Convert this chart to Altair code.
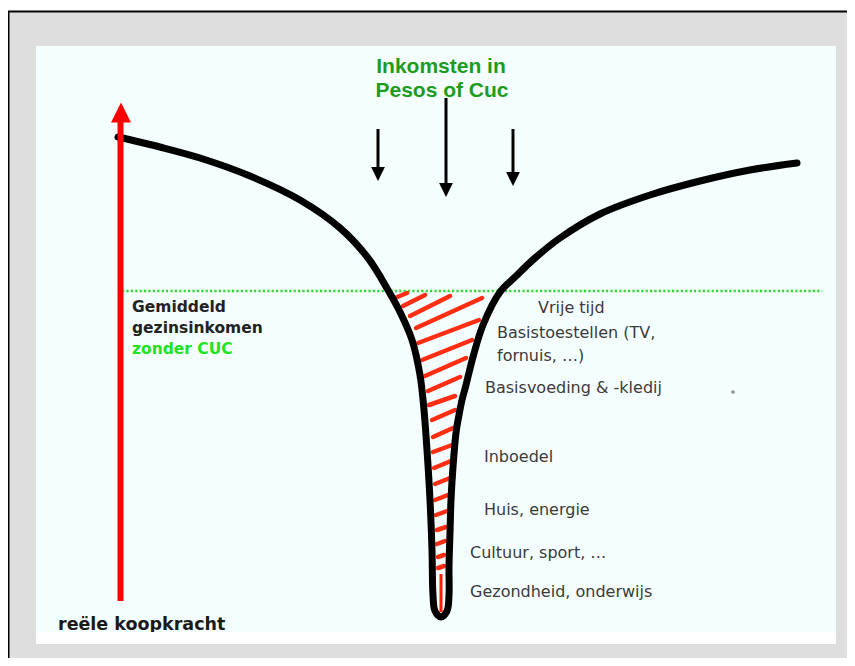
import altair as alt
import pandas as pd

# ---------------- data (diagram coordinates) ----------------
# frame / panels
panel_names = ["frame", "inner", "strip"]
panel_x1 = [8, 36, 36]
panel_x2 = [847, 836, 836]
panel_y1 = [11, 46, 632]
panel_y2 = [658, 632, 644]
panel_fill = ["#dedede", "#f5fefe", "#ffffff"]

border_x1 = [8, 8.5]
border_x2 = [847, 8.5]
border_y1 = [11.5, 11]
border_y2 = [11.5, 658]

# funnel curve: left branch top->bottom, then right branch bottom->top
curve_x = [118, 160, 200, 250, 300, 340, 368, 388, 400, 412, 420, 424, 427,
           430, 432, 433, 435, 441, 447, 449, 449, 450, 451, 453, 456, 459,
           462, 466, 473, 483, 500, 515, 535, 560, 600, 650, 700, 750, 797]
curve_y = [137, 147, 158, 176, 200, 228, 258, 290, 312, 340, 375, 410, 450,
           500, 550, 595, 611, 617, 611, 595, 567, 533, 500, 467, 433, 415,
           400, 385, 357, 325, 292, 277, 258, 238, 214, 195, 181, 170, 163]

# red hatching strokes inside the funnel
hatch_x1 = [395, 403, 410, 416, 418, 422, 425, 428, 429, 432, 433, 433, 434,
            435, 435, 436, 437, 437, 438, 438]
hatch_y1 = [298, 306, 316, 328, 343, 360, 376, 391, 405, 420, 437, 452, 468,
            484, 500, 515, 530, 544, 557, 568]
hatch_x2 = [407, 425, 450, 482, 479, 472, 466, 460, 455, 455, 453, 452, 451,
            450, 448, 447, 446, 445, 444, 444]
hatch_y2 = [293, 295, 296, 298, 320, 340, 358, 377, 396, 410, 428, 445, 461,
            478, 495, 511, 527, 541, 555, 566]

# red stem at the bottom of the funnel
stem_x = [441, 441]
stem_y = [574, 612]

# green dotted reference line
ref_x = [122, 822]
ref_y = [291, 291]

# red vertical arrow (reële koopkracht)
red_shaft_x = [120.5]
red_shaft_y1 = [120]
red_shaft_y2 = [601]
red_head_x = [121]
red_head_y = [112.5]

# black arrows (incomes)
arrow_x = [378, 446, 513]
arrow_top = [129, 98, 129]
arrow_end = [172, 187, 176]
arrow_head_y = [174, 190, 179]

# texts
title_lines = ["Inkomsten in", "Pesos of Cuc"]
title_x = [441, 442]
title_y = [67, 91]

left_lines = ["Gemiddeld", "gezinsinkomen"]
left_x = [132, 132]
left_y = [307, 328]

green_label = ["zonder CUC"]
green_x = [132]
green_y = [349]

right_labels = ["Vrije tijd", "Basistoestellen (TV,", "fornuis, \u2026)",
                "Basisvoeding & -kledij", "Inboedel", "Huis, energie",
                "Cultuur, sport, \u2026", "Gezondheid, onderwijs"]
right_x = [538, 497, 497, 485, 484, 484, 470, 470]
right_y = [308, 333, 356, 388, 457, 510, 553, 592]

bottom_label = ["re\u00eble koopkracht"]
bottom_x = [58]
bottom_y = [625]

speck_x = [733]
speck_y = [392]

# ---------------- chart ----------------
xs = alt.Scale(domain=[8, 847], nice=False, zero=False)
ys = alt.Scale(domain=[8, 658], nice=False, zero=False, reverse=True)


def X(f):
    return alt.X(f, type="quantitative", scale=xs, axis=None)


def Y(f):
    return alt.Y(f, type="quantitative", scale=ys, axis=None)


panels = pd.DataFrame({"name": panel_names, "x1": panel_x1, "x2": panel_x2,
                       "y1": panel_y1, "y2": panel_y2, "fill": panel_fill})


def panel_layer(i):
    return alt.Chart(panels.iloc[[i]]).mark_rect(color=panel_fill[i], strokeWidth=0).encode(
        x=X("x1"), x2="x2", y=Y("y1"), y2="y2")


borders = alt.Chart(pd.DataFrame({"x1": border_x1, "x2": border_x2,
                                  "y1": border_y1, "y2": border_y2})).mark_rule(
    color="#000000", strokeWidth=2).encode(x=X("x1"), x2="x2", y=Y("y1"), y2="y2")

ref_line = alt.Chart(pd.DataFrame({"x": ref_x, "y": ref_y})).mark_line(
    color="#2fdc2f", strokeWidth=2.6, strokeDash=[2.2, 2.2]).encode(x=X("x"), y=Y("y"))

hatch = alt.Chart(pd.DataFrame({"x1": hatch_x1, "y1": hatch_y1,
                                "x2": hatch_x2, "y2": hatch_y2})).mark_rule(
    color="#ff2e12", strokeWidth=4.5, strokeCap="round").encode(
    x=X("x1"), y=Y("y1"), x2="x2", y2="y2")

curve = alt.Chart(pd.DataFrame({"x": curve_x, "y": curve_y,
                                "o": list(range(len(curve_x)))})).mark_line(
    color="#000000", strokeWidth=7, strokeCap="round", strokeJoin="round",
    interpolate="catmull-rom").encode(x=X("x"), y=Y("y"), order="o:Q")

stem = alt.Chart(pd.DataFrame({"x": stem_x, "y": stem_y})).mark_line(
    color="#ff1a00", strokeWidth=3).encode(x=X("x"), y=Y("y"))

red_shaft = alt.Chart(pd.DataFrame({"x": red_shaft_x, "y1": red_shaft_y1,
                                    "y2": red_shaft_y2})).mark_rule(
    color="#ff0000", strokeWidth=6).encode(x=X("x"), y=Y("y1"), y2="y2")

red_head = alt.Chart(pd.DataFrame({"x": red_head_x, "y": red_head_y})).mark_point(
    shape="M0,-1L1,1L-1,1Z", size=400, filled=True, color="#ff0000", opacity=1,
    strokeWidth=0).encode(x=X("x"), y=Y("y"))

arrows_df = pd.DataFrame({"x": arrow_x, "y1": arrow_top, "y2": arrow_end, "hy": arrow_head_y})
arrow_shafts = alt.Chart(arrows_df).mark_rule(color="#000000", strokeWidth=3).encode(
    x=X("x"), y=Y("y1"), y2="y2")
arrow_heads = alt.Chart(arrows_df).mark_point(
    shape="M-1,-1L1,-1L0,1Z", size=190, filled=True, color="#000000", opacity=1,
    strokeWidth=0).encode(x=X("x"), y=Y("hy"))

title = alt.Chart(pd.DataFrame({"t": title_lines, "x": title_x, "y": title_y})).mark_text(
    font="Liberation Sans", fontSize=21, fontWeight="bold", color="#1c9c1c",
    align="center", baseline="middle").encode(x=X("x"), y=Y("y"), text="t:N")

left_text = alt.Chart(pd.DataFrame({"t": left_lines, "x": left_x, "y": left_y})).mark_text(
    font="DejaVu Sans", fontSize=15.5, fontWeight="bold", color="#222222",
    align="left", baseline="middle").encode(x=X("x"), y=Y("y"), text="t:N")

green_text = alt.Chart(pd.DataFrame({"t": green_label, "x": green_x, "y": green_y})).mark_text(
    font="DejaVu Sans", fontSize=15.5, fontWeight="bold", color="#1ee31e",
    align="left", baseline="middle").encode(x=X("x"), y=Y("y"), text="t:N")

right_text = alt.Chart(pd.DataFrame({"t": right_labels, "x": right_x, "y": right_y})).mark_text(
    font="DejaVu Sans", fontSize=16, color="#3a3a3a",
    align="left", baseline="middle").encode(x=X("x"), y=Y("y"), text="t:N")

bottom_text = alt.Chart(pd.DataFrame({"t": bottom_label, "x": bottom_x, "y": bottom_y})).mark_text(
    font="DejaVu Sans", fontSize=17.5, fontWeight="bold", color="#1a1a1a",
    align="left", baseline="middle").encode(x=X("x"), y=Y("y"), text="t:N")

speck = alt.Chart(pd.DataFrame({"x": speck_x, "y": speck_y})).mark_point(
    shape="circle", size=14, filled=True, color="#777777", opacity=0.8,
    strokeWidth=0).encode(x=X("x"), y=Y("y"))

chart = alt.layer(
    panel_layer(0), borders, panel_layer(1),
    ref_line, hatch, stem, curve,
    red_shaft, red_head, arrow_shafts, arrow_heads,
    title, left_text, green_text, right_text, bottom_text, speck,
    panel_layer(2),
).properties(
    width=839, height=650, padding=0, background="#ffffff",
    autosize=alt.AutoSizeParams(type="none"),
).configure_view(stroke=None)

chart.save("out.html", embed_options={"renderer": "svg", "actions": False})
